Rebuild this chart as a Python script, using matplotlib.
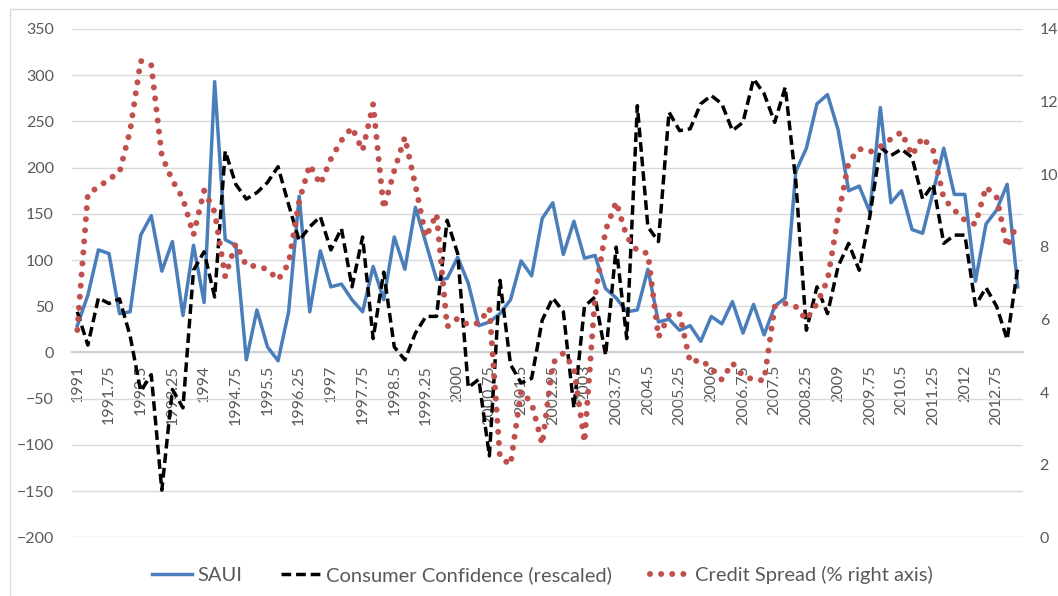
import matplotlib
matplotlib.use("Agg")
from matplotlib import pyplot as plt
from matplotlib.patches import Rectangle

plt.rcParams['font.family'] = ['Lato', 'DejaVu Sans']

# quarterly dates, 1991 Q1 .. 2013 Q2
years = [1991 + q / 4 for q in range(90)]

saui = [29, 62, 111, 107, 42, 44, 127, 148, 88, 120,
        40, 116, 54, 293, 122, 116, -8, 46, 6, -9,
        44, 169, 44, 110, 71, 74, 57, 44, 93, 57,
        125, 90, 157, 118, 79, 80, 103, 75, 29, 33,
        42, 57, 99, 83, 145, 162, 106, 142, 102, 105,
        69, 59, 44, 46, 90, 33, 36, 24, 29, 12,
        39, 31, 55, 21, 52, 19, 50, 59, 196, 221,
        269, 279, 241, 175, 180, 152, 265, 162, 175, 133,
        129, 174, 221, 171, 171, 77, 139, 154, 182, 71]

consumer_conf = [44, 8, 59, 53, 58, 18, -42, -24, -149, -40,
                 -60, 89, 109, 60, 218, 182, 166, 173, 184, 201,
                 160, 121, 136, 147, 111, 134, 71, 125, 15, 87,
                 6, -8, 21, 39, 39, 143, 107, -38, -29, -112,
                 78, -13, -33, -28, 35, 59, 44, -60, 50, 60,
                 -3, 114, 15, 267, 136, 120, 260, 240, 242, 269,
                 278, 269, 240, 249, 296, 280, 249, 287, 185, 24,
                 71, 42, 93, 118, 89, 147, 222, 213, 220, 211,
                 166, 182, 118, 127, 127, 51, 70, 50, 14, 91]

credit_spread = [5.71, 9.46, 9.65, 9.86, 10.06, 11.2, 13.12, 13.01, 10.51, 9.83,
                 9.33, 8.33, 9.55, 8.96, 7.18, 8.09, 7.48, 7.47, 7.38, 7.09,
                 7.54, 9.26, 10.26, 9.72, 10.42, 10.93, 11.29, 10.65, 11.93, 9.05,
                 10.1, 11.02, 9.69, 8.27, 8.91, 5.80, 6.03, 5.85, 5.90, 6.31,
                 2.2, 2.0, 4.02, 3.70, 2.56, 4.8, 5.07, 4.66, 2.62, 6.63,
                 8.46, 9.24, 8.28, 7.89, 7.82, 5.51, 6.12, 6.15, 4.82, 4.89,
                 4.66, 4.34, 4.80, 4.45, 4.34, 4.32, 6.35, 6.44, 6.35, 5.99,
                 6.44, 7.08, 8.82, 10.33, 10.70, 10.61, 10.76, 10.97, 11.16, 10.52,
                 11.02, 10.65, 9.33, 9.01, 8.73, 8.62, 9.65, 9.37, 8.0, 8.66]

left_ticks = list(range(-200, 351, 50))
right_ticks = list(range(0, 15, 2))
label_years = years[::3]

grey = '#595959'

fig = plt.figure(figsize=(10.58, 5.96), dpi=100)
fig.patches.append(Rectangle((10 / 1058, -0.2), 1.5, 1.2 - 9.3 / 596, fill=False,
                             edgecolor='#D9D9D9', lw=1, transform=fig.transFigure))

ax = fig.add_axes([72 / 1058, 1 - 537.3 / 596, 951 / 1058, 508.3 / 596])
ax.set_axisbelow(True)
l1, = ax.plot(years, saui, color='#4A7EBB', lw=2.5, label='SAUI', zorder=3)
l2, = ax.plot(years, consumer_conf, color='black', lw=2.5, dashes=(2.8, 1.4),
              label='Consumer Confidence (rescaled)', zorder=3)

ax.set_xlim(years[0] - 0.125, years[-1] + 0.125)
ax.set_ylim(-200, 350)
ax.set_yticks(left_ticks)
ax.grid(axis='y', color='#D9D9D9', lw=1)
for s in ['left', 'right', 'top']:
    ax.spines[s].set_visible(False)
ax.spines['bottom'].set_position(('data', 0))
ax.spines['bottom'].set_color('#D0D0D0')
ax.spines['bottom'].set_linewidth(1.5)
ax.set_xticks(label_years)
ax.set_xticklabels(['%g' % y for y in label_years], rotation=90)
ax.tick_params(axis='x', length=0, pad=9, labelsize=11.5, labelcolor=grey)
ax.tick_params(axis='y', length=0, pad=13, labelsize=11.5, labelcolor=grey)

ax2 = ax.twinx()
l3, = ax2.plot(years, credit_spread, color='#C0504D', lw=4.3,
               linestyle=(0, (0.01, 1.85)), dash_capstyle='round',
               label='Credit Spread (% right axis)')
ax2.set_ylim(0, 14)
ax2.set_yticks(right_ticks)
for s in ax2.spines.values():
    s.set_visible(False)
ax2.tick_params(axis='y', length=0, pad=12, labelsize=11.5, labelcolor=grey)

fig.legend(handles=[l1, l2, l3], loc='center', bbox_to_anchor=(542.5 / 1058, 1 - 575 / 596),
           ncol=3, frameon=False, fontsize=14.5, labelcolor=grey,
           handlelength=2.0, handletextpad=0.25, columnspacing=1.9)

fig.savefig('out.png', dpi=100)
